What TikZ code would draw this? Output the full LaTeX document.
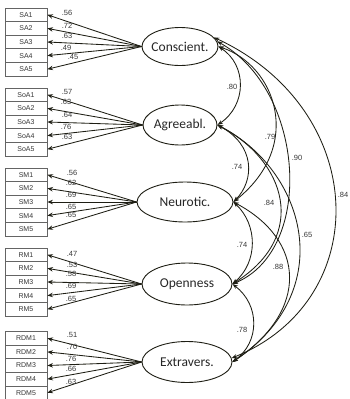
\documentclass[tikz,border=0pt]{standalone}
\usepackage{fontspec}
\setmainfont{Carlito}
\newfontfamily\arialf{Liberation Sans}
\usetikzlibrary{shapes.geometric,arrows.meta}
\definecolor{ln}{RGB}{30,30,20}
\definecolor{bx}{RGB}{100,100,100}
\definecolor{tx}{RGB}{55,55,55}
\tikzset{
 ind/.style={draw=bx, line width=0.8pt, minimum width=42pt, minimum height=13.6pt, inner sep=0pt, font=\arialf\fontsize{7}{8}\selectfont, text=tx},
 fac/.style={draw=ln, ellipse, line width=0.9pt, inner sep=0pt},
 factxt/.style={font=\fontsize{13.5}{15}\selectfont, inner sep=0pt, text=black!85},
 load/.style={draw=ln, line width=0.85pt, -{Stealth[length=5.5pt,width=4.5pt]}},
 corr/.style={draw=ln, line width=0.85pt, {Stealth[length=5.5pt,width=4pt]}-{Stealth[length=5.5pt,width=4pt]}},
 lab/.style={font=\arialf\fontsize{7.5}{8}\selectfont, text=tx, inner sep=0pt},
}
\begin{document}
\begin{tikzpicture}[x=1pt,y=-1pt]
\useasboundingbox (0,0) rectangle (350,399);
% indicator boxes
\foreach \top/\pre in {8/SA, 88/SoA, 168/SM, 248/RM, 331.5/RDM} {
  \foreach \i in {1,...,5} {
    \node[ind] (\pre\i) at (26, {\top+6.8+13.6*(\i-1)}) {\pre\i};
  }
}
% factors
\node[fac, minimum width=76pt, minimum height=38pt] (C) at (180,46.5) {};
\node[factxt] at (C) {Conscient.};
\node[fac, minimum width=74pt, minimum height=40pt] (A) at (180,125) {};
\node[factxt] at (A) {Agreeabl.};
\node[fac, minimum width=96pt, minimum height=40pt] (N) at (185,202) {};
\node[factxt] at (N) {Neurotic.};
\node[fac, minimum width=90pt, minimum height=42pt] (O) at (187,284) {};
\node[factxt] at (O) {Openness};
\node[fac, minimum width=90pt, minimum height=41pt] (E) at (187,362) {};
\node[factxt] at (E) {Extravers.};
% loadings
\foreach \f/\pre in {C/SA, A/SoA, N/SM, O/RM, E/RDM} {
  \foreach \i in {1,...,5} {
    \draw[load] (\f.west) -- (\pre\i.east);
  }
}
\foreach \x/\y/\t in {67/13/.56, 67/26/.72, 67/36/.63, 66/48/.49, 73/57/.45,
  67/92/.57, 66/102/.63, 67/115/.64, 66/127/.76, 67/137/.63,
  72/173/.56, 71/183/.62, 71/195/.69, 71/207/.65, 71/215/.65,
  72/254/.47, 72/265/.53, 71/274/.58, 71/286/.69, 71/299/.65,
  72/335/.51, 72/347/.70, 71/359/.76, 71/369/.66, 71/382/.63} {
  \node[lab] at (\x,\y) {\t};
}
% correlations
\draw[corr] (C.east) .. controls (247,65) and (247,105) .. (A.east);
\node[lab] at (232,87) {.80};
\draw[corr] (A.east) .. controls (255,145) and (255,180) .. (N.east);
\node[lab] at (237,167) {.74};
\draw[corr] (N.east) .. controls (258,225) and (258,262) .. (O.east);
\node[lab] at (242,245) {.74};
\draw[corr] (O.east) .. controls (260,305) and (260,342) .. (E.east);
\node[lab] at (242,330) {.78};
\draw[corr] (C.east) .. controls (275,65) and (305,145) .. (N.east);
\node[lab] at (270,137) {.79};
\draw[corr] (C.8) .. controls (305,90) and (315,250) .. (O.east);
\node[lab] at (297,158) {.90};
\draw[corr] (C.15) .. controls (370,110) and (375,300) .. (E.5);
\node[lab] at (343,195) {.84};
\draw[corr] (A.east) .. controls (285,160) and (310,235) .. (O.east);
\node[lab] at (269,203) {.84};
\draw[corr] (A.east) .. controls (305,170) and (340,290) .. (E.east);
\node[lab] at (307,235) {.65};
\draw[corr] (N.east) .. controls (305,240) and (310,310) .. (E.east);
\node[lab] at (278,267) {.88};
\end{tikzpicture}
\end{document}
